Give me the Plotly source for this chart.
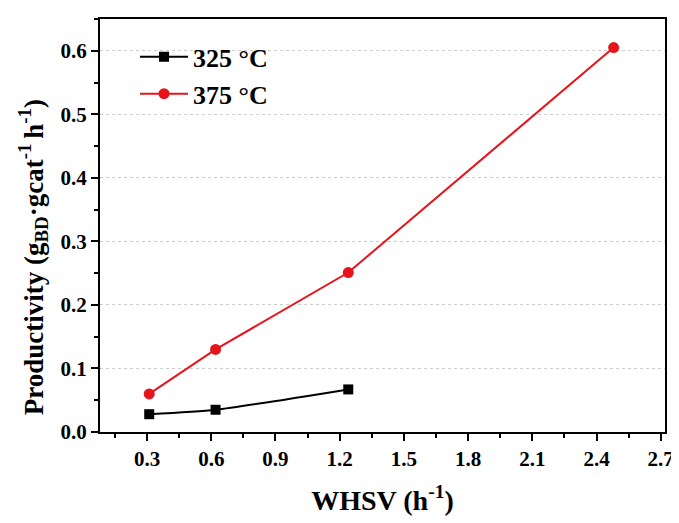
import plotly.graph_objects as go

x325 = [0.31, 0.62, 1.24]
y325 = [0.028, 0.035, 0.067]
x375 = [0.31, 0.62, 1.24, 2.48]
y375 = [0.060, 0.130, 0.251, 0.605]
xticks = [0.3, 0.6, 0.9, 1.2, 1.5, 1.8, 2.1, 2.4, 2.7]
yticks = [0.0, 0.1, 0.2, 0.3, 0.4, 0.5, 0.6]

FONT = "Liberation Serif"

fig = go.Figure()
fig.add_trace(go.Scatter(
    x=x325, y=y325, name="325 °C", mode="lines+markers",
    line=dict(color="black", width=2, shape="spline", smoothing=0.6),
    marker=dict(symbol="square", size=10, color="black"),
))
fig.add_trace(go.Scatter(
    x=x375, y=y375, name="375 °C", mode="lines+markers",
    line=dict(color="#e8141c", width=2),
    marker=dict(symbol="circle", size=11, color="#e8141c"),
))

fig.update_layout(
    width=679, height=523,
    margin=dict(l=92, r=22, t=9, b=99),
    paper_bgcolor="white", plot_bgcolor="white",
    font=dict(family=FONT, color="black"),
    showlegend=True,
    legend=dict(x=0.062, y=0.965, xanchor="left", yanchor="top",
                bgcolor="rgba(0,0,0,0)",
                font=dict(family=FONT, size=26, color="black", weight="bold"),
                itemwidth=48, tracegroupgap=0),
    annotations=[dict(
        text="Productivity (g<sub>BD</sub>·gcat<sup>-1 </sup>h<sup>-1</sup>)",
        xref="paper", yref="paper", x=-0.118, y=0.424,
        xanchor="center", yanchor="middle", textangle=-90, showarrow=False,
        font=dict(family=FONT, size=27, color="black", weight="bold"),
    )],
)
fig.update_xaxes(
    range=[0.08, 2.72], tickvals=xticks, ticktext=[f"{v:.1f}" for v in xticks],
    showgrid=False, zeroline=False,
    showline=True, linecolor="black", linewidth=2, mirror=True,
    ticks="outside", ticklen=7, tickwidth=1.5, tickcolor="black",
    minor=dict(ticks="outside", ticklen=4, tickwidth=1.5, tickcolor="black", dtick=0.15, tick0=0.15),
    tickfont=dict(family=FONT, size=21, color="black", weight="bold"),
    title=dict(text="WHSV (h<sup>-1</sup>)",
               font=dict(family=FONT, size=28, color="black", weight="bold"), standoff=20),
)
fig.update_yaxes(
    range=[0, 0.65], tickvals=yticks, ticktext=[f"{v:.1f}" for v in yticks],
    showgrid=True, gridcolor="#cccccc", griddash="dot", gridwidth=1,
    zeroline=False,
    showline=True, linecolor="black", linewidth=2, mirror=True,
    ticks="outside", ticklen=7, tickwidth=1.5, tickcolor="black",
    minor=dict(ticks="outside", ticklen=4, tickwidth=1.5, tickcolor="black", dtick=0.05, tick0=0.05, showgrid=False),
    tickfont=dict(family=FONT, size=21, color="black", weight="bold"),
)

fig.write_html("out.html")
